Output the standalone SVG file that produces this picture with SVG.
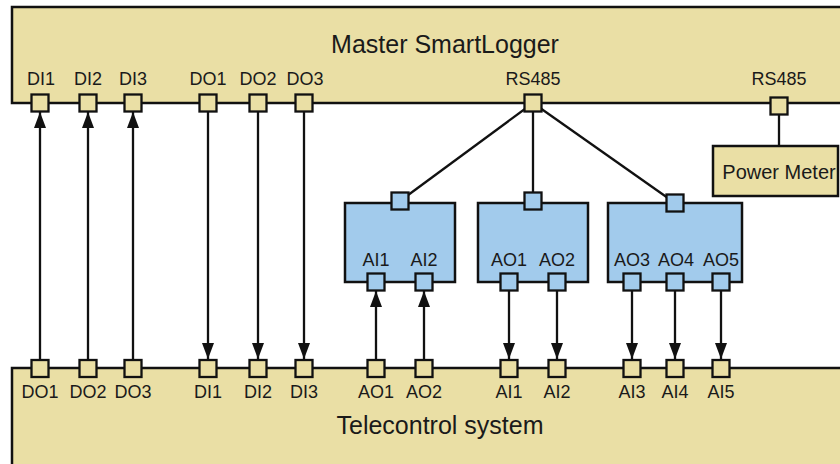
<svg xmlns="http://www.w3.org/2000/svg" width="840" height="464" viewBox="0 0 840 464">
<defs>
<style>
.tan{fill:#EADFA5;stroke:#111;stroke-width:2.5}
.blue{fill:#A2CBEC;stroke:#111;stroke-width:2.5}
.pt{fill:#EADFA5;stroke:#111;stroke-width:2.3}
.pb{fill:#A2CBEC;stroke:#111;stroke-width:2.3}
.ln{stroke:#111;stroke-width:2.3;fill:none}
.ar{stroke:#111;stroke-width:2.3;fill:none;marker-end:url(#arr)}
text{font-family:"Liberation Sans",Arial,sans-serif;fill:#1a1a1a;text-anchor:middle}
.lb{font-size:18px}
.big{font-size:25px}
.pm{font-size:20px}
</style>
<marker id="arr" markerUnits="userSpaceOnUse" markerWidth="16" markerHeight="12" refX="16" refY="6" orient="auto" viewBox="0 0 16 12">
<path d="M0,0 L16,6 L0,12 z" fill="#111"/>
</marker>
</defs>
<rect width="840" height="464" fill="#fff"/>
<g id="master">
<rect class="tan" x="12" y="7" width="840" height="96"/>
<text class="big" x="445" y="53">Master SmartLogger</text>
<text class="lb" x="41" y="85">DI1</text>
<text class="lb" x="88" y="85">DI2</text>
<text class="lb" x="133" y="85">DI3</text>
<text class="lb" x="208" y="85">DO1</text>
<text class="lb" x="258" y="85">DO2</text>
<text class="lb" x="305" y="85">DO3</text>
<text class="lb" x="533" y="85">RS485</text>
<text class="lb" x="779" y="85">RS485</text>
</g>
<g id="telecontrol">
<rect class="tan" x="12" y="368" width="840" height="110"/>
<text class="big" x="440" y="434">Telecontrol system</text>
<text class="lb" x="40" y="398">DO1</text>
<text class="lb" x="88" y="398">DO2</text>
<text class="lb" x="133" y="398">DO3</text>
<text class="lb" x="208" y="398">DI1</text>
<text class="lb" x="258" y="398">DI2</text>
<text class="lb" x="304" y="398">DI3</text>
<text class="lb" x="376" y="398">AO1</text>
<text class="lb" x="424" y="398">AO2</text>
<text class="lb" x="509" y="398">AI1</text>
<text class="lb" x="557" y="398">AI2</text>
<text class="lb" x="632" y="398">AI3</text>
<text class="lb" x="675" y="398">AI4</text>
<text class="lb" x="721" y="398">AI5</text>
</g>
<g id="connectors">
<line class="ar" x1="40" y1="360" x2="40" y2="112"/>
<line class="ar" x1="88" y1="360" x2="88" y2="112"/>
<line class="ar" x1="133" y1="360" x2="133" y2="112"/>
<line class="ar" x1="208" y1="112" x2="208" y2="359"/>
<line class="ar" x1="258" y1="112" x2="258" y2="359"/>
<line class="ar" x1="304" y1="112" x2="304" y2="359"/>
<line class="ln" x1="533" y1="103" x2="400" y2="201"/>
<line class="ln" x1="533" y1="103" x2="533" y2="201"/>
<line class="ln" x1="533" y1="103" x2="675" y2="203"/>
<line class="ln" x1="779" y1="106" x2="779" y2="146"/>
<line class="ar" x1="376" y1="360" x2="376" y2="291"/>
<line class="ar" x1="424" y1="360" x2="424" y2="291"/>
<line class="ar" x1="509" y1="291" x2="509" y2="359"/>
<line class="ar" x1="557" y1="291" x2="557" y2="359"/>
<line class="ar" x1="632" y1="291" x2="632" y2="359"/>
<line class="ar" x1="675" y1="291" x2="675" y2="359"/>
<line class="ar" x1="721" y1="291" x2="721" y2="359"/>
</g>
<g id="master-ports">
<rect class="pt" x="31.5" y="94.5" width="17" height="17"/>
<rect class="pt" x="79.5" y="94.5" width="17" height="17"/>
<rect class="pt" x="124.5" y="94.5" width="17" height="17"/>
<rect class="pt" x="199.5" y="94.5" width="17" height="17"/>
<rect class="pt" x="249.5" y="94.5" width="17" height="17"/>
<rect class="pt" x="295.5" y="94.5" width="17" height="17"/>
<rect class="pt" x="524.5" y="94.5" width="17" height="17"/>
<rect class="pt" x="770.5" y="97.5" width="17" height="17"/>
</g>
<g id="telecontrol-ports">
<rect class="pt" x="31.5" y="360" width="17" height="17"/>
<rect class="pt" x="79.5" y="360" width="17" height="17"/>
<rect class="pt" x="124.5" y="360" width="17" height="17"/>
<rect class="pt" x="199.5" y="360" width="17" height="17"/>
<rect class="pt" x="249.5" y="360" width="17" height="17"/>
<rect class="pt" x="295.5" y="360" width="17" height="17"/>
<rect class="pt" x="367.5" y="360" width="17" height="17"/>
<rect class="pt" x="415.5" y="360" width="17" height="17"/>
<rect class="pt" x="500.5" y="360" width="17" height="17"/>
<rect class="pt" x="548.5" y="360" width="17" height="17"/>
<rect class="pt" x="623.5" y="360" width="17" height="17"/>
<rect class="pt" x="666.5" y="360" width="17" height="17"/>
<rect class="pt" x="712.5" y="360" width="17" height="17"/>
</g>
<g id="power-meter">
<rect class="tan" x="713" y="146" width="125" height="50"/>
<text class="pm" x="779" y="179">Power Meter</text>
</g>
<g id="module-ai">
<rect class="blue" x="345" y="203" width="110" height="79"/>
<rect class="pb" x="391.5" y="192.5" width="17" height="17"/>
<text class="lb" x="376" y="266">AI1</text>
<text class="lb" x="424" y="266">AI2</text>
<rect class="pb" x="367.5" y="273.5" width="17" height="17"/>
<rect class="pb" x="415.5" y="273.5" width="17" height="17"/>
</g>
<g id="module-ao12">
<rect class="blue" x="478" y="203" width="110" height="79"/>
<rect class="pb" x="524.5" y="192.5" width="17" height="17"/>
<text class="lb" x="509" y="266">AO1</text>
<text class="lb" x="557" y="266">AO2</text>
<rect class="pb" x="500.5" y="273.5" width="17" height="17"/>
<rect class="pb" x="548.5" y="273.5" width="17" height="17"/>
</g>
<g id="module-ao345">
<rect class="blue" x="608" y="203" width="134" height="79"/>
<rect class="pb" x="666.5" y="194.5" width="17" height="17"/>
<text class="lb" x="632" y="266">AO3</text>
<text class="lb" x="676" y="266">AO4</text>
<text class="lb" x="721" y="266">AO5</text>
<rect class="pb" x="623.5" y="273.5" width="17" height="17"/>
<rect class="pb" x="666.5" y="273.5" width="17" height="17"/>
<rect class="pb" x="712.5" y="273.5" width="17" height="17"/>
</g>
</svg>
